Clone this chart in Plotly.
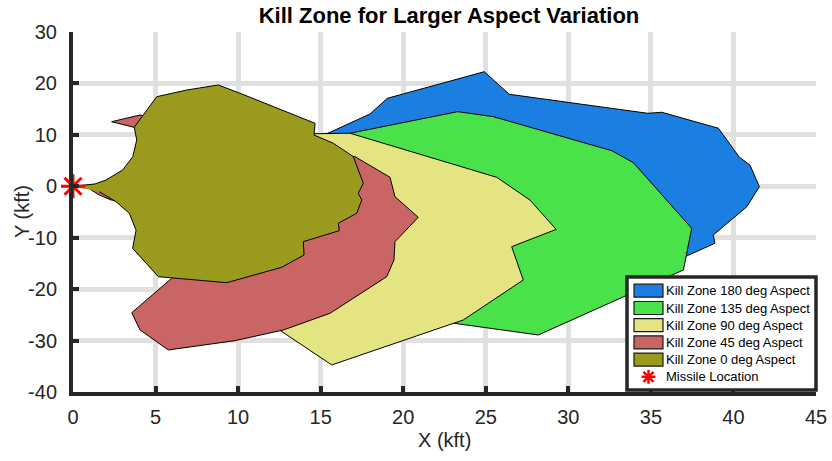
import plotly.graph_objects as go

# Kill-zone boundaries (kft) for each target aspect angle
x_180 = [15.3, 17.99, 19.04, 24.91, 26.42, 34.81, 35.66, 39.09, 40.36, 41.00, 41.57,
         40.81, 38.78, 38.88, 37.07, 36.0, 30.0, 20.0]
y_180 = [10.1, 14.06, 17.11, 22.28, 17.89, 14.19, 14.39, 11.28, 5.64, 4.14, -0.08,
         -3.97, -9.47, -11.08, -13.69, -12.0, 2.0, 9.0]

x_135 = [16.78, 23.30, 25.46, 32.63, 33.94, 37.47, 36.97, 28.18, 22.53, 22.0, 25.0, 22.0]
y_135 = [10.31, 14.51, 13.53, 6.92, 4.59, -8.17, -16.27, -28.91, -26.39, -20.0, -8.0, 2.0]

x_90 = [14.3, 16.78, 25.66, 27.68, 29.26, 26.57, 27.27, 23.64, 15.67, 12.3, 13.0, 14.0]
y_90 = [10.2, 10.31, 1.75, -2.68, -8.38, -11.74, -18.22, -25.99, -34.74, -27.5, -15.0, 0.0]

x_45 = [0.0, 3.0, 6.0, 6.0, 3.9, 2.34, 4.06, 10.0, 15.0, 17.08, 19.20, 19.50, 20.91,
        19.50, 19.44, 19.00, 15.57, 12.74, 9.81, 5.77, 4.06, 3.56, 5.98, 4.66, 3.2,
        2.30, 1.59, 1.03]
y_45 = [0.0, 0.0, 0.0, 10.0, 11.3, 12.56, 13.86, 10.0, 6.0, 5.76, 1.75, -2.02, -6.03,
        -10.77, -14.33, -17.58, -24.69, -27.94, -30.02, -31.83, -27.94, -24.58, -17.89,
        -10.5, -3.0, -2.66, -1.69, -0.58]

x_0 = [0.0, 1.33, 2.0, 3.01, 3.62, 3.86, 3.71, 4.22, 5.07, 6.89, 8.80, 10.12, 14.66,
       14.60, 15.77, 16.98, 17.58, 17.28, 17.49, 17.18, 16.07, 16.13, 13.95, 13.99,
       12.64, 10.12, 9.31, 5.17, 3.61, 3.82, 3.41, 2.60, 1.59]
y_0 = [0.0, 0.45, 1.22, 3.17, 5.76, 9.0, 11.47, 13.67, 17.42, 18.72, 19.70, 18.08, 12.25,
       9.97, 8.36, 5.76, 0.58, -1.36, -2.66, -5.25, -7.19, -8.63, -10.77, -13.37,
       -15.75, -18.02, -18.74, -17.58, -12.06, -8.53, -5.25, -2.99, -1.05]

missile_x = [0.0]
missile_y = [0.0]

zone_names = ["Kill Zone 180 deg Aspect", "Kill Zone 135 deg Aspect",
              "Kill Zone 90 deg Aspect", "Kill Zone 45 deg Aspect",
              "Kill Zone 0 deg Aspect"]
zone_x = [x_180, x_135, x_90, x_45, x_0]
zone_y = [y_180, y_135, y_90, y_45, y_0]
zone_colors = ["#1b7fe2", "#4ae24a", "#e5e482", "#c96565", "#9a9a1e"]
missile_name = "Missile Location"

x_ticks = [0, 5, 10, 15, 20, 25, 30, 35, 40, 45]
y_ticks = [-40, -30, -20, -10, 0, 10, 20, 30]

FONT = "Liberation Sans, Arial, sans-serif"
AXC = "#262626"
W, H = 832, 461
ML, MR, MT, MB = 73, 16, 32, 69

fig = go.Figure()
for name, xs, ys, col in zip(zone_names, zone_x, zone_y, zone_colors):
    fig.add_trace(go.Scatter(
        x=xs, y=ys, name=name, mode="lines", fill="toself",
        fillcolor=col, line=dict(color="black", width=1),
        hoverinfo="name", showlegend=False,
    ))

fig.add_trace(go.Scatter(
    x=missile_x, y=missile_y, name=missile_name, mode="markers",
    marker=dict(symbol="asterisk-open", size=20, color="red",
                line=dict(color="red", width=3)),
    cliponaxis=False, showlegend=False,
))

axis_common = dict(
    showgrid=True, gridcolor="#e0e0e0", gridwidth=4.5,
    zeroline=False, showline=True, linecolor=AXC, linewidth=4,
    ticks="inside", ticklen=6, tickwidth=4, tickcolor=AXC,
    tickfont=dict(family=FONT, size=20, color=AXC),
    mirror=False, automargin=False,
)

fig.update_xaxes(range=[0, 45], tickvals=x_ticks, ticktext=[str(v) for v in x_ticks],
                 ticklabelstandoff=4, **axis_common)
fig.update_yaxes(range=[-40, 30], tickvals=y_ticks, ticktext=[str(v) for v in y_ticks],
                 ticklabelstandoff=8, **axis_common)

# Pixel -> paper helpers for the overlay elements
def px_x(px):
    return (px - ML) / (W - ML - MR)

def px_y(py):
    return (H - MB - py) / (H - MT - MB)

annotations = [
    dict(xref="paper", yref="paper", x=0.5, y=px_y(440), text="X (kft)",
         showarrow=False, xanchor="center", yanchor="middle",
         font=dict(family=FONT, size=20, color=AXC)),
    dict(xref="paper", yref="paper", x=px_x(22), y=0.5, text="Y (kft)",
         showarrow=False, xanchor="center", yanchor="middle", textangle=-90,
         font=dict(family=FONT, size=20, color=AXC)),
]

# Legend panel in the lower right corner of the plot area
shapes = [dict(type="rect", xref="paper", yref="paper",
               x0=px_x(627), x1=px_x(816), y0=px_y(390), y1=px_y(277),
               line=dict(color=AXC, width=3.5), fillcolor="white", layer="above")]
row_y = [290.7, 308.0, 325.2, 342.4, 359.6, 376.8]
for i, col in enumerate(zone_colors):
    cy = row_y[i]
    shapes.append(dict(type="rect", xref="paper", yref="paper",
                       x0=px_x(634), x1=px_x(663), y0=px_y(cy + 6.5), y1=px_y(cy - 6.5),
                       line=dict(color="#1a1a1a", width=1.2), fillcolor=col, layer="above"))
for i, name in enumerate(zone_names + [missile_name]):
    annotations.append(dict(xref="paper", yref="paper", x=px_x(664), y=px_y(row_y[i]),
                            text=name, showarrow=False, xanchor="left", yanchor="middle",
                            font=dict(family=FONT, size=13, color="black")))
# red asterisk symbol for the missile entry
acx, acy, r = 648.5, row_y[5], 7
for dx, dy in [(r, 0), (0, r), (r * 0.72, r * 0.72), (r * 0.72, -r * 0.72)]:
    shapes.append(dict(type="line", xref="paper", yref="paper",
                       x0=px_x(acx - dx), x1=px_x(acx + dx),
                       y0=px_y(acy - dy), y1=px_y(acy + dy),
                       line=dict(color="red", width=2.5), layer="above"))

fig.update_layout(
    width=W, height=H,
    margin=dict(l=ML, r=MR, t=MT, b=MB),
    paper_bgcolor="white", plot_bgcolor="white",
    title=dict(text="<b>Kill Zone for Larger Aspect Variation</b>",
               font=dict(family=FONT, size=22, color="black"),
               x=449 / W, xanchor="center", y=1 - 15 / H, yanchor="middle"),
    shapes=shapes, annotations=annotations,
    showlegend=False,
)

fig.write_html("out.html")
